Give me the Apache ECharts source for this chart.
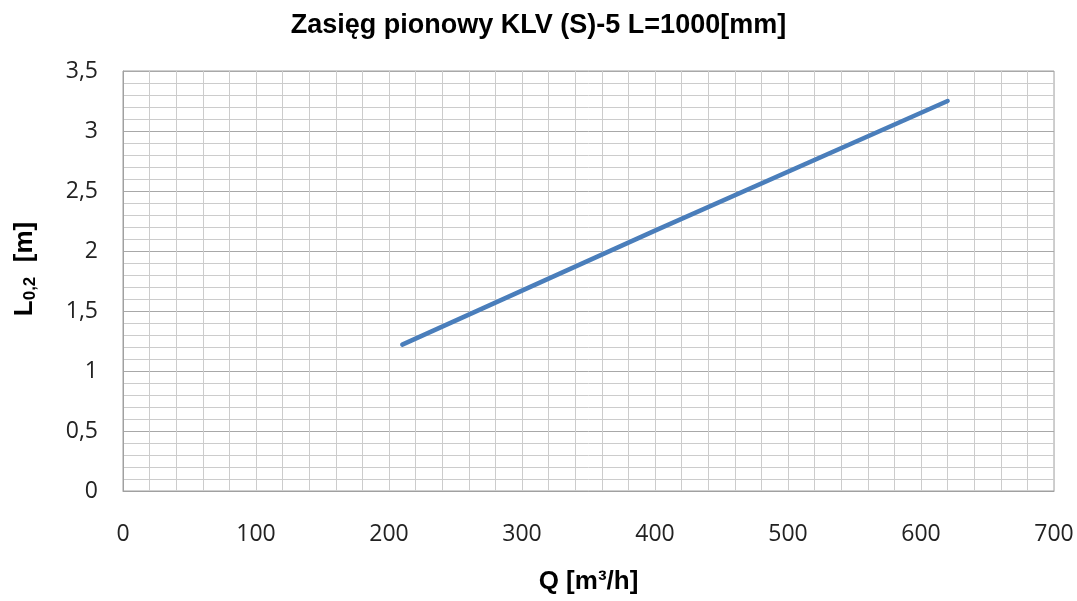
<!DOCTYPE html>
<html><head><meta charset="utf-8">
<script src="https://cdn.jsdelivr.net/npm/echarts@6/dist/echarts.min.js"></script>
<style>html,body{margin:0;padding:0;background:#fff}#c{width:1077px;height:601px}</style>
</head><body><div id="c"></div>
<script>
const qValues = [210, 400, 620];
const lValues = [1.22, 2.17, 3.25];
const xTicks = [0, 100, 200, 300, 400, 500, 600, 700];
const yTicks = ['0', '0,5', '1', '1,5', '2', '2,5', '3', '3,5'];

const chart = echarts.init(document.getElementById('c'));
chart.setOption({
  animation: false,
  backgroundColor: '#fff',
  title: {
    text: 'Zasięg pionowy KLV (S)-5 L=1000[mm]',
    left: 'center', top: 7,
    textStyle: {fontFamily: 'Liberation Sans', fontWeight: 'bold', fontSize: 27, color: '#000'}
  },
  grid: {left: 123, right: 23, top: 71, bottom: 110, show: true, borderColor: '#a0a0a0', borderWidth: 1},
  xAxis: {
    type: 'value', min: 0, max: 700, interval: 100,
    name: 'Q [m³/h]', nameLocation: 'middle', nameGap: 78,
    nameTextStyle: {fontFamily: 'Liberation Sans', fontWeight: 'bold', fontSize: 26, color: '#000'},
    axisLine: {show: true, lineStyle: {color: '#a0a0a0'}},
    axisTick: {show: false},
    axisLabel: {margin: 32, fontFamily: 'Open Sans', fontSize: 23, color: '#222',
      formatter: v => String(xTicks[Math.round(v / 100)])},
    splitLine: {show: true, lineStyle: {color: '#cccccc', width: 1}},
    minorTick: {show: false, splitNumber: 5},
    minorSplitLine: {show: true, lineStyle: {color: '#cccccc', width: 1}}
  },
  yAxis: {
    type: 'value', min: 0, max: 3.5, interval: 0.5,
    name: '{b|L}{s|0,2}{b|  [m]}', nameLocation: 'middle', nameGap: 84, nameRotate: 90,
    nameTextStyle: {
      padding: [0, 0, 0, 24],
      rich: {
        b: {fontFamily: 'Liberation Sans', fontWeight: 'bold', fontSize: 26, color: '#000'},
        s: {fontFamily: 'Liberation Sans', fontWeight: 'bold', fontSize: 17, color: '#000', verticalAlign: 'bottom', padding: [12, 0, 0, 0]}
      }
    },
    axisLine: {show: true, lineStyle: {color: '#a0a0a0'}},
    axisTick: {show: false},
    axisLabel: {margin: 25, fontFamily: 'Open Sans', fontSize: 23, color: '#222',
      formatter: v => yTicks[Math.round(v * 2)]},
    splitLine: {show: true, lineStyle: {color: '#a8a8a8', width: 1}},
    minorTick: {show: false, splitNumber: 5},
    minorSplitLine: {show: true, lineStyle: {color: '#cccccc', width: 1}}
  },
  series: [{
    type: 'line',
    data: qValues.map((q, i) => [q, lValues[i]]),
    showSymbol: false,
    lineStyle: {color: '#4a7ebb', width: 4.5, cap: 'round'},
    itemStyle: {color: '#4a7ebb'}
  }]
});
</script></body></html>
